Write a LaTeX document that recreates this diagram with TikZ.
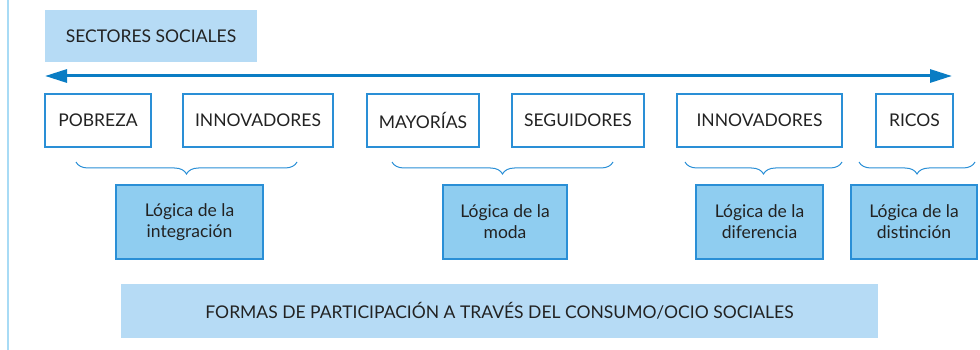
\documentclass[tikz,border=0pt]{standalone}
\usepackage{fontspec}
\setmainfont{Lato}
\usetikzlibrary{decorations.pathreplacing,arrows.meta}
\definecolor{lightfill}{HTML}{B6DBF5}
\definecolor{logfill}{HTML}{8FCDF0}
\definecolor{bordblue}{HTML}{2A8FD6}
\definecolor{arrblue}{HTML}{0A7DC4}
\definecolor{sideline}{HTML}{A8DBF5}
\definecolor{txt}{HTML}{222222}
\begin{document}
\begin{tikzpicture}[x=1pt,y=-1pt,
  every node/.style={inner sep=0pt,outer sep=0pt,text=txt,font=\fontsize{17.5}{21}\selectfont},
  header/.style={fill=lightfill,minimum height=52pt,anchor=center},
  sector/.style={draw=bordblue,line width=1.3pt,fill=white,minimum height=53pt},
  logica/.style={draw=bordblue,line width=1.5pt,fill=logfill,minimum height=74pt,align=center},
  bracket/.style={draw=bordblue,line width=1pt,decorate,decoration={brace,mirror,amplitude=12pt}},
  axis/.style={draw=arrblue,line width=3pt,{Triangle[length=22pt,width=13pt]}-{Triangle[length=22pt,width=13pt]}}
]
\useasboundingbox (0,0) rectangle (980,350);
\draw[sideline,line width=2pt] (8,0) coordinate (sT) -- (8,350) coordinate (sB);

\node[header,minimum width=212pt] (sect) at (151,36) {SECTORES SOCIALES};

\coordinate (aL) at (45,76);
\coordinate (aR) at (952,76);
\draw[axis] (aL) -- (aR);

\node[sector,minimum width=106pt] (pob) at (98,120.5) {POBREZA};
\node[sector,minimum width=150pt] (inn1) at (258,120.5) {INNOVADORES};
\node[sector,minimum width=112pt] (may) at (423,120.5) {MAYORÍAS};
\node[sector,minimum width=132pt] (seg) at (578,120.5) {SEGUIDORES};
\node[sector,minimum width=165pt] (inn2) at (759.5,120.5) {INNOVADORES};
\node[sector,minimum width=77pt] (ric) at (914.5,120.5) {RICOS};

\coordinate (b1L) at (76,162);  \coordinate (b1R) at (297,162);
\coordinate (b2L) at (392,162); \coordinate (b2R) at (613,162);
\coordinate (b3L) at (685,162); \coordinate (b3R) at (842,162);
\coordinate (b4L) at (859,162); \coordinate (b4R) at (975,162);
\draw[bracket] (b1L) -- (b1R);
\draw[bracket] (b2L) -- (b2R);
\draw[bracket] (b3L) -- (b3R);
\draw[bracket] (b4L) -- (b4R);

\node[logica,minimum width=147pt] (l1) at (189.5,222) {Lógica de la\\integración};
\node[logica,minimum width=124pt] (l2) at (505,222) {Lógica de la\\moda};
\node[logica,minimum width=127pt] (l3) at (759.5,222) {Lógica de la\\diferencia};
\node[logica,minimum width=126pt] (l4) at (914,222) {Lógica de la\\distinción};

\node[header,minimum width=757pt,minimum height=54pt] (forms) at (499.5,311) {FORMAS DE PARTICIPACIÓN A TRAVÉS DEL CONSUMO/OCIO SOCIALES};
\end{tikzpicture}
\end{document}
